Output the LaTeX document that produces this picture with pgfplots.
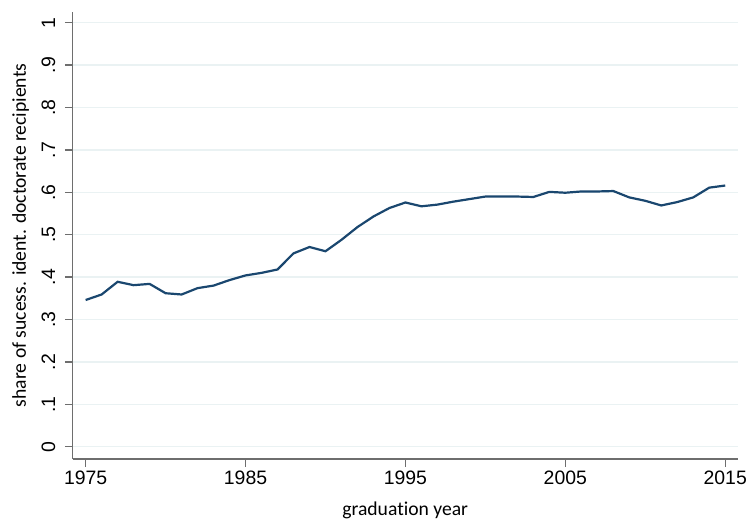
\documentclass[border=0pt]{standalone}
\usepackage{pgfplots}
\pgfplotsset{compat=1.18}
\usepackage{fontspec}
\setmainfont{Carlito}[Ligatures=NoCommon]
\newfontfamily\arialfont{Liberation Sans}
\definecolor{statanavy}{HTML}{1A476F}
\definecolor{gridc}{HTML}{EAF2F3}
\definecolor{axc}{HTML}{6E6E6E}
\begin{document}
\begin{tikzpicture}
\path[use as bounding box] (-72.7bp,-62bp) rectangle (680.3bp,459bp);
\begin{axis}[
  at={(0,0)}, anchor=south west,
  scale only axis,
  width=665bp, height=447.3bp,
  xmin=1974.19, xmax=2015.78,
  ymin=-0.029, ymax=1.026,
  axis lines*=left,
  axis line style={draw=axc, line width=1.3bp},
  every tick/.style={draw=axc, line width=1.3bp},
  tick align=outside,
  major tick length=7.7bp,
  xtick={1975,1985,1995,2005,2015},
  xticklabels={1975,1985,1995,2005,2015},
  ytick={0,0.1,0.2,0.3,0.4,0.5,0.6,0.7,0.8,0.9,1},
  yticklabels={0,.1,.2,.3,.4,.5,.6,.7,.8,.9,1},
  /pgf/number format/assume math mode=true,
  ticklabel style={font=\arialfont\fontsize{19.5}{19.5}\selectfont, inner sep=0pt},
  xticklabel style={anchor=north},
  xticklabel shift=4.3bp,
  yticklabel style={rotate=90, anchor=base},
  yticklabel shift=10bp,
  ymajorgrids=true,
  xmajorgrids=false,
  major grid style={draw=gridc, line width=1.5bp},
  xlabel={graduation year},
  ylabel={share of sucess. ident. doctorate recipients},
  label style={font=\fontsize{19.7}{20}\selectfont, inner sep=0pt},
  xlabel style={at={(axis description cs:0.5,-0.12743)}, anchor=base},
  ylabel style={at={(axis description cs:-0.07023,0.5)}, anchor=base, rotate=0},
  clip=false,
]
\addplot[statanavy, line width=2.2bp, no markers] coordinates {
(1975,0.346) (1976,0.359) (1977,0.389) (1978,0.381) (1979,0.384)
(1980,0.362) (1981,0.359) (1982,0.374) (1983,0.380) (1984,0.393)
(1985,0.404) (1986,0.410) (1987,0.418) (1988,0.456) (1989,0.471)
(1990,0.461) (1991,0.488) (1992,0.518) (1993,0.543) (1994,0.563)
(1995,0.576) (1996,0.567) (1997,0.571) (1998,0.578) (1999,0.584)
(2000,0.590) (2001,0.590) (2002,0.590) (2003,0.589) (2004,0.601)
(2005,0.599) (2006,0.602) (2007,0.602) (2008,0.603) (2009,0.588)
(2010,0.580) (2011,0.569) (2012,0.577) (2013,0.588) (2014,0.611)
(2015,0.616)
};
\end{axis}
\end{tikzpicture}
\end{document}
